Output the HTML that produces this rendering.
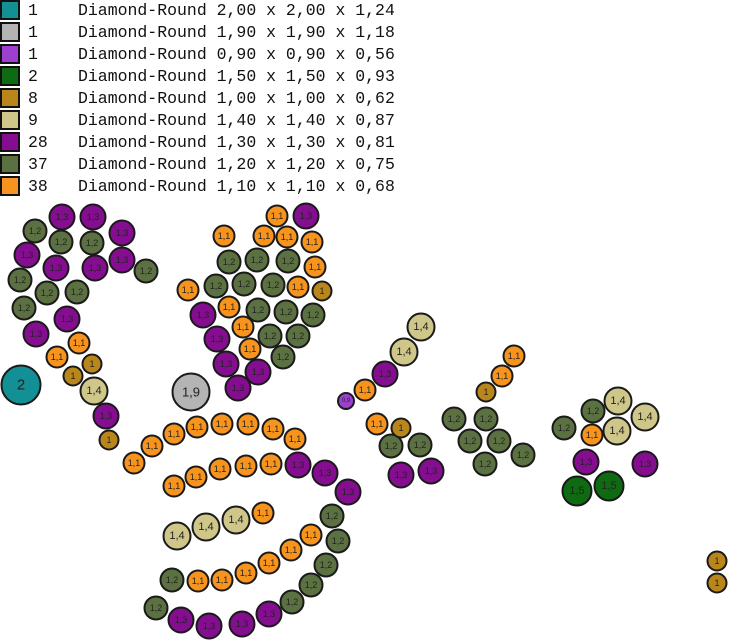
<!DOCTYPE html>
<html><head><meta charset="utf-8"><style>
html,body{margin:0;padding:0;background:#fff;width:731px;height:641px;overflow:hidden}
svg{display:block}
.l{font-family:"Liberation Mono",monospace;font-size:16.5px;fill:#111}
circle{stroke:#1a1a1a;stroke-width:2}
text.c{font-family:"Liberation Sans",sans-serif;font-size:9px;text-anchor:middle;dominant-baseline:central;fill:#222}
.o{fill:#f7941d}.g{fill:#5c7141}.p{fill:#850d90}.k{fill:#cfc78a}.y{fill:#b8861b}.d{fill:#0f6b12}
</style></head><body>
<svg width="731" height="641" xmlns="http://www.w3.org/2000/svg">
<g stroke="#111" stroke-width="2">
<rect x="1" y="1" width="18" height="18" fill="#138f96"/>
<rect x="1" y="23" width="18" height="18" fill="#b4b4b4"/>
<rect x="1" y="45" width="18" height="18" fill="#9d3fcf"/>
<rect x="1" y="67" width="18" height="18" fill="#0f6b12"/>
<rect x="1" y="89" width="18" height="18" fill="#b8861b"/>
<rect x="1" y="111" width="18" height="18" fill="#cfc78a"/>
<rect x="1" y="133" width="18" height="18" fill="#850d90"/>
<rect x="1" y="155" width="18" height="18" fill="#5c7141"/>
<rect x="1" y="177" width="18" height="18" fill="#f7941d"/>
</g>
<g class="l">
<text x="28" y="15">1</text><text x="78" y="15">Diamond-Round 2,00 x 2,00 x 1,24</text>
<text x="28" y="37">1</text><text x="78" y="37">Diamond-Round 1,90 x 1,90 x 1,18</text>
<text x="28" y="59">1</text><text x="78" y="59">Diamond-Round 0,90 x 0,90 x 0,56</text>
<text x="28" y="81">2</text><text x="78" y="81">Diamond-Round 1,50 x 1,50 x 0,93</text>
<text x="28" y="103">8</text><text x="78" y="103">Diamond-Round 1,00 x 1,00 x 0,62</text>
<text x="28" y="125">9</text><text x="78" y="125">Diamond-Round 1,40 x 1,40 x 0,87</text>
<text x="28" y="147">28</text><text x="78" y="147">Diamond-Round 1,30 x 1,30 x 0,81</text>
<text x="28" y="169">37</text><text x="78" y="169">Diamond-Round 1,20 x 1,20 x 0,75</text>
<text x="28" y="191">38</text><text x="78" y="191">Diamond-Round 1,10 x 1,10 x 0,68</text>
</g>
<!-- big ones -->
<circle cx="21" cy="385" r="19.5" fill="#138f96"/><text class="c" x="21" y="385" style="font-size:15px">2</text>
<circle cx="191" cy="392" r="18.5" fill="#b4b4b4"/><text class="c" x="191" y="392" style="font-size:13px">1,9</text>
<circle cx="346" cy="401" r="8" fill="#9d3fcf"/><text class="c" x="346" y="401" style="font-size:6px">0,9</text>
<circle class="d" cx="577" cy="491" r="14.5"/><text class="c" x="577" y="491" style="font-size:11px">1,5</text>
<circle class="d" cx="609" cy="486" r="14.5"/><text class="c" x="609" y="486" style="font-size:11px">1,5</text>
<!-- purple 1,3 -->
<g>
<circle class="p" cx="62" cy="217" r="12.5"/><circle class="p" cx="93" cy="217" r="12.5"/><circle class="p" cx="122" cy="233" r="12.5"/>
<circle class="p" cx="27" cy="255" r="12.5"/><circle class="p" cx="56" cy="268" r="12.5"/><circle class="p" cx="95" cy="268" r="12.5"/><circle class="p" cx="122" cy="260" r="12.5"/>
<circle class="p" cx="67" cy="319" r="12.5"/><circle class="p" cx="36" cy="334" r="12.5"/><circle class="p" cx="106" cy="416" r="12.5"/>
<circle class="p" cx="306" cy="216" r="12.5"/><circle class="p" cx="203" cy="315" r="12.5"/><circle class="p" cx="217" cy="339" r="12.5"/>
<circle class="p" cx="226" cy="364" r="12.5"/><circle class="p" cx="258" cy="372" r="12.5"/><circle class="p" cx="238" cy="388" r="12.5"/>
<circle class="p" cx="298" cy="465" r="12.5"/><circle class="p" cx="325" cy="473" r="12.5"/><circle class="p" cx="348" cy="492" r="12.5"/>
<circle class="p" cx="181" cy="620" r="12.5"/><circle class="p" cx="209" cy="626" r="12.5"/><circle class="p" cx="242" cy="624" r="12.5"/><circle class="p" cx="269" cy="614" r="12.5"/>
<circle class="p" cx="385" cy="374" r="12.5"/><circle class="p" cx="401" cy="475" r="12.5"/><circle class="p" cx="431" cy="471" r="12.5"/>
<circle class="p" cx="586" cy="462" r="12.5"/><circle class="p" cx="645" cy="464" r="12.5"/>
</g>
<!-- green 1,2 -->
<g>
<circle class="g" cx="35" cy="231" r="11.5"/><circle class="g" cx="61" cy="242" r="11.5"/><circle class="g" cx="92" cy="243" r="11.5"/><circle class="g" cx="146" cy="271" r="11.5"/>
<circle class="g" cx="20" cy="280" r="11.5"/><circle class="g" cx="47" cy="293" r="11.5"/><circle class="g" cx="77" cy="292" r="11.5"/><circle class="g" cx="24" cy="308" r="11.5"/>
<circle class="g" cx="229" cy="262" r="11.5"/><circle class="g" cx="257" cy="260" r="11.5"/><circle class="g" cx="288" cy="261" r="11.5"/>
<circle class="g" cx="216" cy="286" r="11.5"/><circle class="g" cx="244" cy="284" r="11.5"/><circle class="g" cx="273" cy="285" r="11.5"/>
<circle class="g" cx="258" cy="310" r="11.5"/><circle class="g" cx="286" cy="312" r="11.5"/><circle class="g" cx="313" cy="315" r="11.5"/>
<circle class="g" cx="270" cy="336" r="11.5"/><circle class="g" cx="298" cy="336" r="11.5"/><circle class="g" cx="283" cy="357" r="11.5"/>
<circle class="g" cx="332" cy="516" r="11.5"/><circle class="g" cx="338" cy="541" r="11.5"/><circle class="g" cx="172" cy="580" r="11.5"/>
<circle class="g" cx="326" cy="565" r="11.5"/><circle class="g" cx="311" cy="585" r="11.5"/><circle class="g" cx="292" cy="602" r="11.5"/><circle class="g" cx="156" cy="608" r="11.5"/>
<circle class="g" cx="391" cy="446" r="11.5"/><circle class="g" cx="420" cy="445" r="11.5"/>
<circle class="g" cx="454" cy="419" r="11.5"/><circle class="g" cx="486" cy="419" r="11.5"/><circle class="g" cx="470" cy="441" r="11.5"/><circle class="g" cx="499" cy="441" r="11.5"/><circle class="g" cx="523" cy="455" r="11.5"/><circle class="g" cx="485" cy="464" r="11.5"/>
<circle class="g" cx="593" cy="411" r="11.5"/><circle class="g" cx="564" cy="428" r="11.5"/>
</g>
<!-- orange 1,1 -->
<g>
<circle class="o" cx="79" cy="343" r="10.5"/><circle class="o" cx="57" cy="357" r="10.5"/>
<circle class="o" cx="277" cy="216" r="10.5"/><circle class="o" cx="224" cy="236" r="10.5"/><circle class="o" cx="264" cy="236" r="10.5"/><circle class="o" cx="287" cy="237" r="10.5"/><circle class="o" cx="312" cy="242" r="10.5"/>
<circle class="o" cx="315" cy="267" r="10.5"/><circle class="o" cx="188" cy="290" r="10.5"/><circle class="o" cx="298" cy="287" r="10.5"/><circle class="o" cx="229" cy="307" r="10.5"/>
<circle class="o" cx="243" cy="327" r="10.5"/><circle class="o" cx="250" cy="349" r="10.5"/>
<circle class="o" cx="134" cy="463" r="10.5"/><circle class="o" cx="152" cy="446" r="10.5"/><circle class="o" cx="174" cy="434" r="10.5"/><circle class="o" cx="197" cy="427" r="10.5"/><circle class="o" cx="222" cy="424" r="10.5"/><circle class="o" cx="248" cy="424" r="10.5"/><circle class="o" cx="273" cy="429" r="10.5"/><circle class="o" cx="295" cy="439" r="10.5"/>
<circle class="o" cx="174" cy="486" r="10.5"/><circle class="o" cx="196" cy="477" r="10.5"/><circle class="o" cx="220" cy="469" r="10.5"/><circle class="o" cx="246" cy="466" r="10.5"/><circle class="o" cx="271" cy="464" r="10.5"/>
<circle class="o" cx="263" cy="513" r="10.5"/><circle class="o" cx="311" cy="535" r="10.5"/><circle class="o" cx="291" cy="550" r="10.5"/><circle class="o" cx="269" cy="563" r="10.5"/><circle class="o" cx="246" cy="573" r="10.5"/><circle class="o" cx="222" cy="580" r="10.5"/><circle class="o" cx="198" cy="581" r="10.5"/>
<circle class="o" cx="365" cy="390" r="10.5"/><circle class="o" cx="377" cy="424" r="10.5"/><circle class="o" cx="514" cy="356" r="10.5"/><circle class="o" cx="502" cy="376" r="10.5"/><circle class="o" cx="592" cy="435" r="10.5"/>
</g>
<!-- olive 1 -->
<g>
<circle class="y" cx="92" cy="364" r="9.5"/><circle class="y" cx="73" cy="376" r="9.5"/><circle class="y" cx="109" cy="440" r="9.5"/><circle class="y" cx="322" cy="291" r="9.5"/>
<circle class="y" cx="401" cy="428" r="9.5"/><circle class="y" cx="486" cy="392" r="9.5"/><circle class="y" cx="717" cy="561" r="9.5"/><circle class="y" cx="717" cy="583" r="9.5"/>
</g>
<!-- khaki 1,4 -->
<g>
<circle class="k" cx="94" cy="391" r="13.5"/><circle class="k" cx="177" cy="536" r="13.5"/><circle class="k" cx="206" cy="527" r="13.5"/><circle class="k" cx="236" cy="520" r="13.5"/>
<circle class="k" cx="421" cy="327" r="13.5"/><circle class="k" cx="404" cy="352" r="13.5"/><circle class="k" cx="618" cy="401" r="13.5"/><circle class="k" cx="645" cy="417" r="13.5"/><circle class="k" cx="617" cy="431" r="13.5"/>
</g>
<!-- labels -->
<g class="c">
<text class="c" x="62" y="217" fill="#5a0a60">1,3</text><text class="c" x="93" y="217">1,3</text><text class="c" x="122" y="233">1,3</text><text class="c" x="27" y="255">1,3</text><text class="c" x="56" y="268">1,3</text><text class="c" x="95" y="268">1,3</text><text class="c" x="122" y="260">1,3</text><text class="c" x="67" y="319">1,3</text><text class="c" x="36" y="334">1,3</text><text class="c" x="106" y="416">1,3</text><text class="c" x="306" y="216">1,3</text><text class="c" x="203" y="315">1,3</text><text class="c" x="217" y="339">1,3</text><text class="c" x="226" y="364">1,3</text><text class="c" x="258" y="372">1,3</text><text class="c" x="238" y="388">1,3</text><text class="c" x="298" y="465">1,3</text><text class="c" x="325" y="473">1,3</text><text class="c" x="348" y="492">1,3</text><text class="c" x="181" y="620">1,3</text><text class="c" x="209" y="626">1,3</text><text class="c" x="242" y="624">1,3</text><text class="c" x="269" y="614">1,3</text><text class="c" x="385" y="374">1,3</text><text class="c" x="401" y="475">1,3</text><text class="c" x="431" y="471">1,3</text><text class="c" x="586" y="462">1,3</text><text class="c" x="645" y="464">1,3</text>
<text class="c" x="35" y="231">1,2</text><text class="c" x="61" y="242">1,2</text><text class="c" x="92" y="243">1,2</text><text class="c" x="146" y="271">1,2</text><text class="c" x="20" y="280">1,2</text><text class="c" x="47" y="293">1,2</text><text class="c" x="77" y="292">1,2</text><text class="c" x="24" y="308">1,2</text><text class="c" x="229" y="262">1,2</text><text class="c" x="257" y="260">1,2</text><text class="c" x="288" y="261">1,2</text><text class="c" x="216" y="286">1,2</text><text class="c" x="244" y="284">1,2</text><text class="c" x="273" y="285">1,2</text><text class="c" x="258" y="310">1,2</text><text class="c" x="286" y="312">1,2</text><text class="c" x="313" y="315">1,2</text><text class="c" x="270" y="336">1,2</text><text class="c" x="298" y="336">1,2</text><text class="c" x="283" y="357">1,2</text><text class="c" x="332" y="516">1,2</text><text class="c" x="338" y="541">1,2</text><text class="c" x="172" y="580">1,2</text><text class="c" x="326" y="565">1,2</text><text class="c" x="311" y="585">1,2</text><text class="c" x="292" y="602">1,2</text><text class="c" x="156" y="608">1,2</text><text class="c" x="391" y="446">1,2</text><text class="c" x="420" y="445">1,2</text><text class="c" x="454" y="419">1,2</text><text class="c" x="486" y="419">1,2</text><text class="c" x="470" y="441">1,2</text><text class="c" x="499" y="441">1,2</text><text class="c" x="523" y="455">1,2</text><text class="c" x="485" y="464">1,2</text><text class="c" x="593" y="411">1,2</text><text class="c" x="564" y="428">1,2</text>
<text class="c" x="79" y="343">1,1</text><text class="c" x="57" y="357">1,1</text><text class="c" x="277" y="216">1,1</text><text class="c" x="224" y="236">1,1</text><text class="c" x="264" y="236">1,1</text><text class="c" x="287" y="237">1,1</text><text class="c" x="312" y="242">1,1</text><text class="c" x="315" y="267">1,1</text><text class="c" x="188" y="290">1,1</text><text class="c" x="298" y="287">1,1</text><text class="c" x="229" y="307">1,1</text><text class="c" x="243" y="327">1,1</text><text class="c" x="250" y="349">1,1</text><text class="c" x="134" y="463">1,1</text><text class="c" x="152" y="446">1,1</text><text class="c" x="174" y="434">1,1</text><text class="c" x="197" y="427">1,1</text><text class="c" x="222" y="424">1,1</text><text class="c" x="248" y="424">1,1</text><text class="c" x="273" y="429">1,1</text><text class="c" x="295" y="439">1,1</text><text class="c" x="174" y="486">1,1</text><text class="c" x="196" y="477">1,1</text><text class="c" x="220" y="469">1,1</text><text class="c" x="246" y="466">1,1</text><text class="c" x="271" y="464">1,1</text><text class="c" x="263" y="513">1,1</text><text class="c" x="311" y="535">1,1</text><text class="c" x="291" y="550">1,1</text><text class="c" x="269" y="563">1,1</text><text class="c" x="246" y="573">1,1</text><text class="c" x="222" y="580">1,1</text><text class="c" x="198" y="581">1,1</text><text class="c" x="365" y="390">1,1</text><text class="c" x="377" y="424">1,1</text><text class="c" x="514" y="356">1,1</text><text class="c" x="502" y="376">1,1</text><text class="c" x="592" y="435">1,1</text>
<text class="c" x="92" y="364">1</text><text class="c" x="73" y="376">1</text><text class="c" x="109" y="440">1</text><text class="c" x="322" y="291">1</text><text class="c" x="401" y="428">1</text><text class="c" x="486" y="392">1</text><text class="c" x="717" y="561">1</text><text class="c" x="717" y="583">1</text>
</g>
<g style="font-size:11px">
<text class="c" x="94" y="391" style="font-size:11px">1,4</text><text class="c" x="177" y="536" style="font-size:11px">1,4</text><text class="c" x="206" y="527" style="font-size:11px">1,4</text><text class="c" x="236" y="520" style="font-size:11px">1,4</text><text class="c" x="421" y="327" style="font-size:11px">1,4</text><text class="c" x="404" y="352" style="font-size:11px">1,4</text><text class="c" x="618" y="401" style="font-size:11px">1,4</text><text class="c" x="645" y="417" style="font-size:11px">1,4</text><text class="c" x="617" y="431" style="font-size:11px">1,4</text>
</g>
</svg>
</body></html>
